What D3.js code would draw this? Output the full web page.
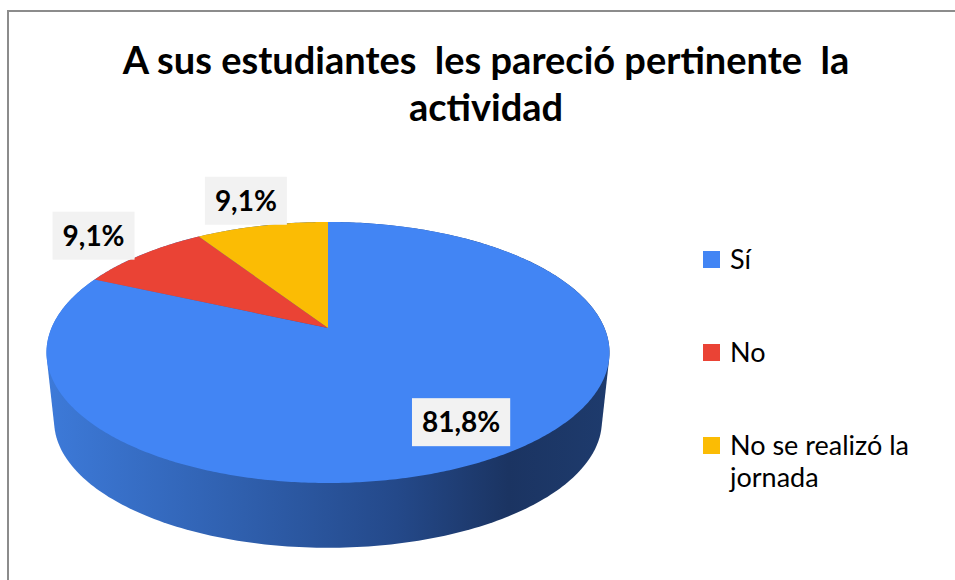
<!DOCTYPE html>
<html>
<head>
<meta charset="utf-8">
<title>A sus estudiantes les pareció pertinente la actividad</title>
<script src="https://d3js.org/d3.v7.min.js"></script>
<style>
  body { margin: 0; background: #fff; }
  text { font-family: Lato, "Open Sans", sans-serif; }
</style>
</head>
<body>
<svg id="chart" width="955" height="580"></svg>
<script>
// data
const categories = ["Sí", "No", "No se realizó la jornada"];
const values = [81.8, 9.1, 9.1];
const valueLabels = ["81,8%", "9,1%", "9,1%"];
const colors = ["#4285F4", "#EA4335", "#FBBC04"];
const titleLines = ["A sus estudiantes  les pareció pertinente  la", "actividad"];

const svg = d3.select("#chart");
const width = +svg.attr("width"), height = +svg.attr("height");

// chart frame
svg.append("rect")
   .attr("x", 8).attr("y", 11)
   .attr("width", width + 20).attr("height", height + 20)
   .attr("fill", "#fff").attr("stroke", "#8c8c8c").attr("stroke-width", 2);

// title
svg.append("text")
   .attr("text-anchor", "middle")
   .attr("font-weight", "bold")
   .attr("font-size", 38)
   .style("white-space", "pre")
   .selectAll("tspan")
   .data(titleLines)
   .join("tspan")
   .attr("x", 486)
   .attr("y", (d, i) => 74 + i * 47)
   .text(d => d);

// 3d pie: circle of unit radius seen in perspective
const cx = 328, cy = 328;      // projected centre of top face
const SX = 276.5, SY = 125.9;  // scale of the disc
const K = 0.1877;              // perspective strength
const depth = 69, sideScale = 0.973;

function proj(theta, r, bottom) {
  const u = r * Math.sin(theta), v = r * Math.cos(theta);
  const d = 1 + K * v;
  const s = bottom ? sideScale : 1;
  const y0 = bottom ? cy + depth : cy;
  return [cx + s * SX * u / d, y0 - s * SY * v / d];
}

const pie = d3.pie().sort(null).value(d => d);
const arcs = pie(values);

// side wall (only the front is visible, all of it belongs to the first slice)
const defs = svg.append("defs");
const grad = defs.append("linearGradient")
   .attr("id", "side").attr("gradientUnits", "userSpaceOnUse")
   .attr("x1", cx - SX * 1.02).attr("x2", cx + SX * 1.02).attr("y1", 0).attr("y2", 0);
[[0, "#3d7ad9"], [0.35, "#2f5fad"], [0.62, "#24498a"], [0.82, "#1b3462"], [1, "#1e3b6d"]]
  .forEach(([o, c]) => grad.append("stop").attr("offset", o).attr("stop-color", c));

const rim = [];
d3.range(0, 360, 1).forEach(a => {
  const t = a * Math.PI / 180;
  rim.push(proj(t, 1, false), proj(t, 1, true));
});
svg.append("path")
   .attr("d", "M" + d3.polygonHull(rim).join("L") + "Z")
   .attr("fill", "url(#side)");

// top face slices
const line = d3.line();
svg.append("g").selectAll("path")
   .data(arcs)
   .join("path")
   .attr("d", d => {
     const n = Math.max(2, Math.ceil((d.endAngle - d.startAngle) / 0.01));
     const pts = [[cx, cy]];
     for (let i = 0; i <= n; i++) {
       pts.push(proj(d.startAngle + (d.endAngle - d.startAngle) * i / n, 1, false));
     }
     return line(pts) + "Z";
   })
   .attr("fill", (d, i) => colors[i]);

// data labels
const lab = svg.append("g").selectAll("g")
   .data(arcs)
   .join("g")
   .attr("transform", d => {
     const mid = (d.startAngle + d.endAngle) / 2;
     const r = d.value < 15 ? 1.3 : 0.78;
     const p = proj(mid, r, false);
     return `translate(${p[0]},${p[1]})`;
   });
lab.append("rect").attr("fill", "#f2f2f2");
lab.append("text")
   .attr("text-anchor", "middle")
   .attr("font-weight", "bold")
   .attr("font-size", 28)
   .attr("y", 10)
   .attr("fill", "#000")
   .text((d, i) => valueLabels[i]);
lab.each(function() {
  const g = d3.select(this);
  const w = g.select("text").node().getComputedTextLength() + 20;
  g.select("rect").attr("x", -w / 2).attr("y", -24).attr("width", w).attr("height", 48);
});

// legend
const legend = svg.append("g").attr("transform", "translate(703,251)");
const item = legend.selectAll("g")
   .data(categories)
   .join("g")
   .attr("transform", (d, i) => `translate(0,${i * 93})`);
item.append("rect")
   .attr("width", 17).attr("height", 17)
   .attr("fill", (d, i) => colors[i]);
item.append("text")
   .attr("font-size", 27)
   .attr("fill", "#000")
   .each(function(d) {
     const t = d3.select(this);
     const words = d.split(" ");
     let lineWords = [], row = 0;
     let tspan = t.append("tspan").attr("x", 27).attr("y", 18);
     words.forEach(w => {
       lineWords.push(w);
       tspan.text(lineWords.join(" "));
       if (tspan.node().getComputedTextLength() > 215 && lineWords.length > 1) {
         lineWords.pop();
         tspan.text(lineWords.join(" "));
         lineWords = [w];
         row++;
         tspan = t.append("tspan").attr("x", 27).attr("y", 18 + row * 32).text(w);
       }
     });
   });
</script>
</body>
</html>
